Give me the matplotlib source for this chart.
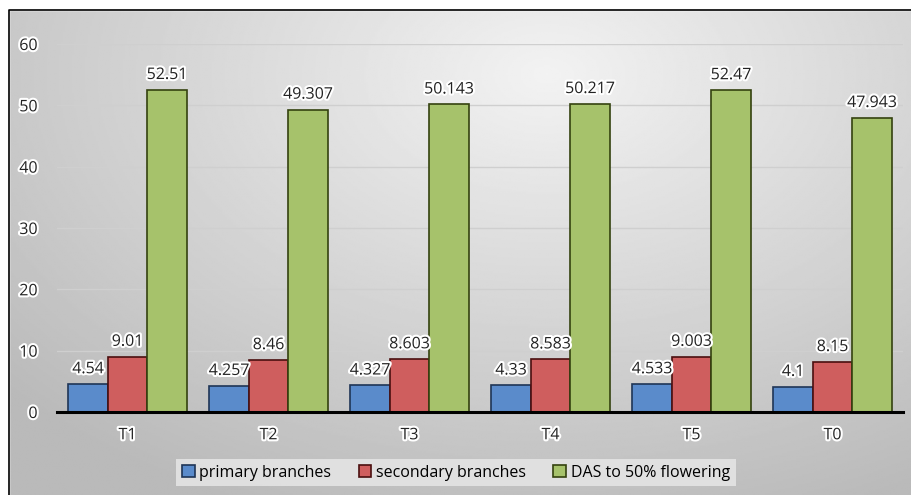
import numpy as np
import matplotlib.pyplot as plt
import matplotlib.patheffects as pe
from matplotlib.patches import Rectangle

categories = ["T1", "T2", "T3", "T4", "T5", "T0"]
primary = [4.54, 4.257, 4.327, 4.33, 4.533, 4.1]
secondary = [9.01, 8.46, 8.603, 8.583, 9.003, 8.15]
flowering = [52.51, 49.307, 50.143, 50.217, 52.47, 47.943]
series_names = ["primary branches", "secondary branches", "DAS to 50% flowering"]

plt.rcParams['font.family'] = ['Open Sans', 'DejaVu Sans']

fig = plt.figure(figsize=(9.12, 4.95), dpi=100)

# gray radial gradient behind everything
bg = fig.add_axes([0, 0, 1, 1], zorder=-10)
yy, xx = np.mgrid[0:1:300j, 0:1:500j]
r = np.sqrt(((xx - 0.6) * 1.2) ** 2 + ((yy - 0.15) * 1.0) ** 2)
g = 0.95 - 0.22 * np.clip(r / 0.95, 0, 1)
bg.imshow(g, cmap='gray', vmin=0, vmax=1, extent=[0, 1, 1, 0], aspect='auto')
bg.set_xlim(0, 1)
bg.set_ylim(1, 0)
bg.axis('off')
# white margin and black frame on the top/left
bg.add_patch(Rectangle((0, 0), 1, 10 / 495, color='white', zorder=2))
bg.add_patch(Rectangle((0, 0), 9 / 912, 1, color='white', zorder=2))
bg.plot([9 / 912, 9 / 912, 1], [1, 10 / 495, 10 / 495], color='black', lw=1.2, zorder=3)

ax = fig.add_axes([57 / 912, 83 / 495, 846 / 912, 368 / 495])
ax.patch.set_alpha(0)

x = np.arange(len(categories))
w = 0.28
face = ['#5A8BCB', '#CF5E5E', '#A6C26B']
edge = ['#1F3556', '#4A0F0F', '#34420F']
halo = [pe.withStroke(linewidth=3, foreground='white')]

for i, vals in enumerate([primary, secondary, flowering]):
    bars = ax.bar(x + (i - 1) * w, vals, w, color=face[i], edgecolor=edge[i],
                  linewidth=1.2, label=series_names[i], zorder=3)
    for b, v in zip(bars, vals):
        ax.annotate(f"{v:g}", (b.get_x() + b.get_width() / 2, v),
                    xytext=(0, 5), textcoords='offset points', ha='center',
                    va='bottom', fontsize=11.5, color='#222222',
                    path_effects=halo, zorder=4)

ax.set_xlim(-0.5, len(categories) - 0.5)
ax.set_ylim(0, 60)
ax.set_yticks(range(0, 61, 10))
ax.set_xticks(x)
ax.set_xticklabels(categories)
ax.yaxis.grid(True, color='#CFCFCF', lw=1)
ax.set_axisbelow(True)
for s in ['top', 'right', 'left']:
    ax.spines[s].set_visible(False)
ax.spines['bottom'].set_linewidth(2.2)
ax.spines['bottom'].set_color('black')
ax.spines['bottom'].set_zorder(5)
ax.tick_params(axis='y', length=0, pad=14, labelsize=11.5, labelcolor='#222222')
ax.tick_params(axis='x', length=0, pad=11, labelsize=11.5, labelcolor='#222222')
for t in ax.get_xticklabels() + ax.get_yticklabels():
    t.set_path_effects(halo)

leg = fig.legend(loc='center', bbox_to_anchor=(0.5, 0.045), ncol=3,
                 fontsize=11.5, frameon=True, fancybox=False, handlelength=0.8,
                 handleheight=0.8, handletextpad=0.3, columnspacing=1.7,
                 borderpad=0.35)
leg.get_frame().set_facecolor('#E4E4E4')
leg.get_frame().set_edgecolor('none')
leg.get_frame().set_alpha(0.9)

fig.savefig('out.png', dpi=100)
